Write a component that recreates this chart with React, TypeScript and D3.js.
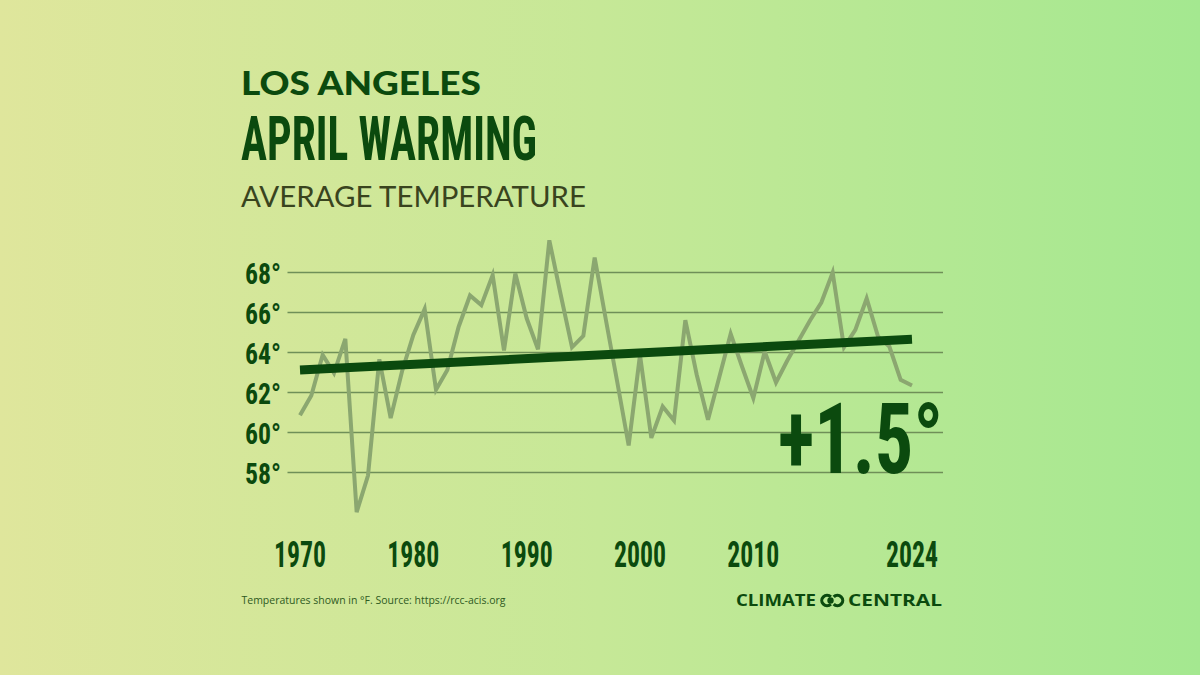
import React from "react";
import * as d3 from "d3";

const years: number[] = d3.range(1970, 2025);
const temps: number[] = [
  60.86, 61.85, 63.88, 62.97, 64.68, 56.02, 57.85, 63.66, 60.72, 63.05,
  64.88, 66.17, 62.14, 63.13, 65.29, 66.85, 66.37, 67.87, 64.1, 67.95,
  65.71, 64.16, 69.61, 66.9, 64.26, 64.83, 68.75, 65.6, 62.5, 59.35,
  63.88, 59.73, 61.3, 60.6, 65.62, 62.9, 60.64, 62.78, 64.93, 63.3,
  61.72, 64.05, 62.5, 63.6, 64.6, 65.6, 66.5, 68.0, 64.26, 65.13,
  66.7, 64.8, 64.3, 62.63, 62.35,
];
const trendYears: number[] = [1970, 2024];
const trendValues: number[] = [63.13, 64.66];
const yTicks: number[] = [58, 60, 62, 64, 66, 68];
const xTicks: number[] = [1970, 1980, 1990, 2000, 2010, 2024];

const DARK = "#0b4a0e";
const CONDENSED = "'Roboto Condensed', 'Liberation Sans Narrow', Roboto, sans-serif";

export default function App() {
  const x = d3.scaleLinear().domain([1970, 2024]).range([300, 912]);
  const y = d3.scaleLinear().domain([58, 68]).range([472.5, 272.5]);

  const line = d3
    .line<number>()
    .x((_, i) => x(years[i]))
    .y((d) => y(d));

  const trend = d3
    .line<number>()
    .x((_, i) => x(trendYears[i]))
    .y((d) => y(d));

  const leftC = d3.arc()({
    innerRadius: 3.6,
    outerRadius: 6.8,
    startAngle: Math.PI / 2 + 0.75,
    endAngle: Math.PI / 2 + 2 * Math.PI - 0.75,
  } as any) as string;
  const rightC = d3.arc()({
    innerRadius: 3.6,
    outerRadius: 6.8,
    startAngle: -Math.PI / 2 + 0.75,
    endAngle: (3 * Math.PI) / 2 - 0.75,
  } as any) as string;

  return (
    <svg
      width={1200}
      height={675}
      style={{ position: "absolute", left: 0, top: 0, display: "block" }}
    >
      <defs>
        <linearGradient id="bg" x1="0" y1="0" x2="1" y2="0">
          <stop offset="0" stopColor="#dfe69c" />
          <stop offset="0.5" stopColor="#c6e897" />
          <stop offset="1" stopColor="#a4e890" />
        </linearGradient>
      </defs>
      <rect x={0} y={0} width={1200} height={675} fill="url(#bg)" />

      {/* Titles */}
      <text
        x={241}
        y={95}
        fill={DARK}
        fontFamily="Lato, 'Open Sans', sans-serif"
        fontWeight={900}
        fontSize={32}
        textLength={240}
        lengthAdjust="spacingAndGlyphs"
      >
        LOS ANGELES
      </text>
      <text
        x={241}
        y={160}
        fill={DARK}
        fontFamily={CONDENSED}
        fontWeight={700}
        fontSize={61}
        textLength={296}
        lengthAdjust="spacingAndGlyphs"
      >
        APRIL WARMING
      </text>
      <text
        x={241}
        y={206.5}
        fill="#39441e"
        fontFamily="Lato, 'Open Sans', sans-serif"
        fontWeight={400}
        fontSize={28}
        textLength={345}
        lengthAdjust="spacingAndGlyphs"
      >
        AVERAGE TEMPERATURE
      </text>

      {/* Grid */}
      {yTicks.map((t) => (
        <line
          key={"g" + t}
          x1={287.5}
          x2={943}
          y1={y(t)}
          y2={y(t)}
          stroke="#6f8f58"
          strokeWidth={1.6}
        />
      ))}
      {yTicks.map((t) => (
        <text
          key={"l" + t}
          x={281}
          y={y(t) + 11}
          textAnchor="end"
          fill={DARK}
          fontFamily={CONDENSED}
          fontWeight={700}
          fontSize={30}
          textLength={36}
          lengthAdjust="spacingAndGlyphs"
        >
          {`${t}°`}
        </text>
      ))}

      {/* X labels */}
      {xTicks.map((t) => (
        <text
          key={t}
          x={x(t)}
          y={567}
          textAnchor="middle"
          fill={DARK}
          fontFamily={CONDENSED}
          fontWeight={700}
          fontSize={37}
          textLength={52}
          lengthAdjust="spacingAndGlyphs"
        >
          {String(t)}
        </text>
      ))}

      {/* Data line */}
      <path
        d={line(temps) || ""}
        fill="none"
        stroke="#8ba770"
        strokeWidth={4}
        strokeLinejoin="miter"
      />

      {/* Trend line */}
      <path
        d={trend(trendValues) || ""}
        fill="none"
        stroke={DARK}
        strokeWidth={9}
        strokeLinecap="butt"
      />

      {/* Big change label */}
      <text
        x={943}
        y={473}
        textAnchor="end"
        fill={DARK}
        fontFamily={CONDENSED}
        fontWeight={700}
        fontSize={98}
        textLength={165}
        lengthAdjust="spacingAndGlyphs"
      >
        +1.5°
      </text>

      {/* Footer */}
      <text
        x={241.5}
        y={603.5}
        fill="#2e5a22"
        fontFamily="'Open Sans', Lato, sans-serif"
        fontSize={11}
        textLength={264}
        lengthAdjust="spacingAndGlyphs"
      >
        Temperatures shown in °F. Source: https://rcc-acis.org
      </text>

      {/* Logo */}
      <text
        x={736}
        y={606}
        fill={DARK}
        fontFamily="'Open Sans', Lato, sans-serif"
        fontWeight={700}
        fontSize={15.5}
        textLength={80}
        lengthAdjust="spacingAndGlyphs"
      >
        CLIMATE
      </text>
      <g transform="translate(827,600.5)">
        <path d={leftC} fill={DARK} />
      </g>
      <g transform="translate(837.5,600.5)">
        <path d={rightC} fill={DARK} />
      </g>
      <circle cx={830.5} cy={600.5} r={3.2} fill={DARK} />
      <text
        x={848}
        y={606}
        fill={DARK}
        fontFamily="'Open Sans', Lato, sans-serif"
        fontWeight={700}
        fontSize={15.5}
        textLength={94}
        lengthAdjust="spacingAndGlyphs"
      >
        CENTRAL
      </text>
    </svg>
  );
}
